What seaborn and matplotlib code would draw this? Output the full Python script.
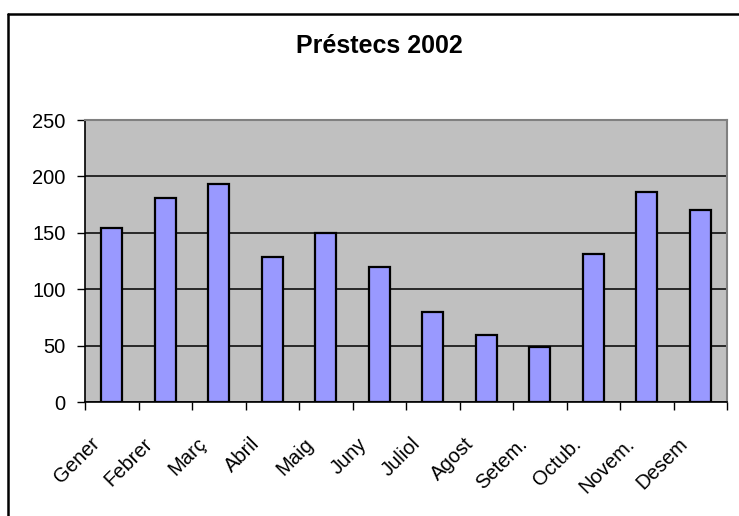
import numpy as np
import pandas as pd
import matplotlib
matplotlib.use("Agg")
import matplotlib.pyplot as plt
import matplotlib.transforms as mtransforms
from matplotlib.lines import Line2D
import seaborn as sns

# Data
mesos = ["Gener", "Febrer", "Març", "Abril", "Maig", "Juny",
         "Juliol", "Agost", "Setem.", "Octub.", "Novem.", "Desem"]
prestecs = [154, 181, 193, 129, 150, 120, 80, 60, 49, 131, 186, 170]
y_ticks = [0, 50, 100, 150, 200, 250]

df = pd.DataFrame({"mes": mesos, "prestecs": prestecs})

sns.set_style("white")
plt.rcParams["font.family"] = ["Liberation Sans", "DejaVu Sans"]
plt.rcParams["text.color"] = "black"
plt.rcParams["xtick.color"] = "black"
plt.rcParams["ytick.color"] = "black"

fig = plt.figure(figsize=(7.39, 5.16), dpi=100)
ax = fig.add_axes([85 / 739, 1 - 402.3 / 516, (727 - 85) / 739, (402.3 - 120) / 516])
ax.set_facecolor("#C0C0C0")

sns.barplot(data=df, x="mes", y="prestecs", color="#9999FF", saturation=1,
            edgecolor="black", linewidth=1.6, width=0.4, ax=ax, zorder=3)

ax.set_xlim(-0.5, len(mesos) - 0.5)
ax.set_ylim(0, 250)
ax.set_yticks(y_ticks)
ax.set_yticklabels([str(v) for v in y_ticks], fontsize=14.5)
ax.yaxis.grid(True, color="black", linewidth=1.1, zorder=1)
ax.set_axisbelow(True)
ax.set_xlabel("")
ax.set_ylabel("")

# ticks on the category boundaries, labels at the centres
ax.set_xticks(np.arange(-0.5, len(mesos), 1))
ax.set_xticklabels([])
ax.set_xticks(np.arange(len(mesos)), minor=True)
ax.set_xticklabels(mesos, minor=True, fontsize=14.5, rotation=45,
                   ha="right", va="top", rotation_mode="anchor")
ax.tick_params(axis="x", which="major", direction="out", length=6, width=1, bottom=True)
ax.tick_params(axis="x", which="minor", length=0, pad=23)
ax.tick_params(axis="y", direction="out", length=6, width=1, left=True, pad=8)
offset = mtransforms.ScaledTranslation(-22 / 100, 0, fig.dpi_scale_trans)
for lab in ax.xaxis.get_minorticklabels():
    lab.set_transform(lab.get_transform() + offset)

for side in ["left", "bottom"]:
    ax.spines[side].set_color("black")
    ax.spines[side].set_linewidth(1.2)
for side in ["top", "right"]:
    ax.spines[side].set_color("#808080")
    ax.spines[side].set_linewidth(1.5)

fig.text(379 / 739, 1 - 46 / 516, "Préstecs 2002", fontsize=18, fontweight="bold",
         ha="center", va="center")

# chart frame (top and left edges visible)
fig.add_artist(Line2D([8 / 739, 1], [1 - 14 / 516, 1 - 14 / 516], color="black", linewidth=1.8))
fig.add_artist(Line2D([8 / 739, 8 / 739], [0, 1 - 14 / 516], color="black", linewidth=1.8))

fig.savefig("out.png", dpi=100)
